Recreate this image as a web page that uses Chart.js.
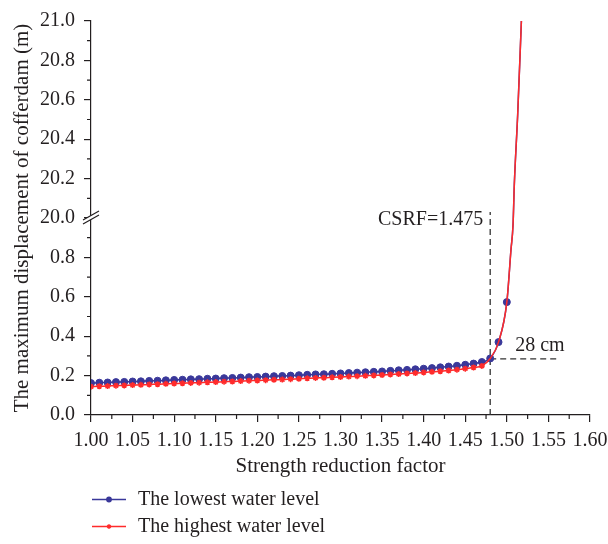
<!DOCTYPE html>
<html>
<head>
<meta charset="utf-8">
<script src="https://cdn.jsdelivr.net/npm/chart.js@4.4.1/dist/chart.umd.min.js"></script>
<style>
  html, body { margin: 0; padding: 0; background: #fff; }
  #wrap { width: 608px; height: 544px; }
</style>
</head>
<body>
<div id="wrap"><canvas id="chart" width="608" height="544"></canvas></div>
<script>
// strength reduction factors of the computed steps
const reductionFactors = [
  1.00, 1.01, 1.02, 1.03, 1.04, 1.05, 1.06, 1.07, 1.08, 1.09,
  1.10, 1.11, 1.12, 1.13, 1.14, 1.15, 1.16, 1.17, 1.18, 1.19,
  1.20, 1.21, 1.22, 1.23, 1.24, 1.25, 1.26, 1.27, 1.28, 1.29,
  1.30, 1.31, 1.32, 1.33, 1.34, 1.35, 1.36, 1.37, 1.38, 1.39,
  1.40, 1.41, 1.42, 1.43, 1.44, 1.45, 1.46, 1.47, 1.48, 1.49, 1.50
];
const lowestWaterLevel = [
  0.162, 0.164, 0.165, 0.167, 0.168, 0.170, 0.171, 0.173, 0.174, 0.176,
  0.178, 0.179, 0.181, 0.182, 0.184, 0.185, 0.187, 0.188, 0.190, 0.192,
  0.193, 0.195, 0.197, 0.198, 0.200, 0.202, 0.204, 0.206, 0.207, 0.209,
  0.211, 0.213, 0.215, 0.217, 0.219, 0.221, 0.224, 0.227, 0.229, 0.232,
  0.235, 0.238, 0.242, 0.246, 0.250, 0.255, 0.261, 0.269, 0.287, 0.370, 0.573
];
const highestWaterLevel = [
  0.144, 0.146, 0.147, 0.149, 0.150, 0.152, 0.153, 0.155, 0.156, 0.158,
  0.160, 0.161, 0.163, 0.164, 0.166, 0.167, 0.169, 0.170, 0.172, 0.174,
  0.175, 0.177, 0.179, 0.180, 0.182, 0.184, 0.186, 0.188, 0.189, 0.191,
  0.193, 0.195, 0.197, 0.199, 0.201, 0.203, 0.206, 0.208, 0.211, 0.213,
  0.216, 0.219, 0.222, 0.226, 0.230, 0.235, 0.241, 0.249, 0.287, 0.370, 0.573
];
// divergence: both runs shoot up through the axis break (no markers)
const tailFactors = [1.505, 1.5075, 1.509, 1.513, 1.5175];
const tailDisplacement = [0.84, 0.97, 20.17, 20.52, 21.0];
const highestMarkedUntil = 1.47;

const xTickValues = [1.00, 1.05, 1.10, 1.15, 1.20, 1.25, 1.30, 1.35, 1.40, 1.45, 1.50, 1.55, 1.60];
const xTickLabels = ['1.00', '1.05', '1.10', '1.15', '1.20', '1.25', '1.30', '1.35', '1.40', '1.45', '1.50', '1.55', '1.60'];
const yTickValues = [0.0, 0.2, 0.4, 0.6, 0.8, 20.0, 20.2, 20.4, 20.6, 20.8, 21.0];
const yTickLabels = ['0.0', '0.2', '0.4', '0.6', '0.8', '20.0', '20.2', '20.4', '20.6', '20.8', '21.0'];

const yBreak = {low: 1.0, high: 20.0};
const criticalFactor = 1.48;
const criticalText = 'CSRF=1.475';
const criticalDisplacement = 0.285;
const criticalDispText = '28 cm';
const criticalLineTop = 20.03;
const criticalLineEnd = 1.56;

const INK = '#231f20';
const BLUE = '#3a389a';
const RED = '#ff2b2b';
const FONT = '"Liberation Serif", "Times New Roman", serif';

// values above the break are shifted down so both parts share one axis
function toAxis(v) {
    return v >= yBreak.high ? v - yBreak.high + yBreak.low : v;
}

const allFactors = reductionFactors.concat(tailFactors);
const toPoints = (values) => values.concat(tailDisplacement)
    .map((v, i) => ({x: allFactors[i], y: toAxis(v)}));

const minorTicks = {
    id: 'minorTicks',
    afterDraw(chart) {
        const {ctx, scales: {x, y}} = chart;
        ctx.save();
        ctx.strokeStyle = INK;
        ctx.lineWidth = 1.2;
        ctx.beginPath();
        for (let i = 0; i < x.ticks.length - 1; i++) {
            const px = x.getPixelForValue((x.ticks[i].value + x.ticks[i + 1].value) / 2);
            ctx.moveTo(px, x.top);
            ctx.lineTo(px, x.top + 4);
        }
        for (let i = 0; i < y.ticks.length - 1; i++) {
            const py = y.getPixelForValue((y.ticks[i].value + y.ticks[i + 1].value) / 2);
            ctx.moveTo(y.right, py);
            ctx.lineTo(y.right - 4, py);
        }
        ctx.stroke();

        // axis break mark
        const x0 = y.right, y0 = y.getPixelForValue(yBreak.low);
        ctx.fillStyle = '#fff';
        ctx.beginPath();
        ctx.moveTo(x0 - 8, y0 + 2);
        ctx.lineTo(x0 + 8, y0 - 7);
        ctx.lineTo(x0 + 8, y0 - 3);
        ctx.lineTo(x0 - 8, y0 + 6);
        ctx.closePath();
        ctx.fill();
        ctx.beginPath();
        ctx.moveTo(x0 - 8, y0 + 2);
        ctx.lineTo(x0 + 8, y0 - 7);
        ctx.moveTo(x0 - 8, y0 + 6);
        ctx.lineTo(x0 + 8, y0 - 3);
        ctx.stroke();
        ctx.restore();
    }
};

const criticalMarks = {
    id: 'criticalMarks',
    beforeDatasetsDraw(chart) {
        const {ctx, scales: {x, y}} = chart;
        const cx = x.getPixelForValue(criticalFactor);
        const cy = y.getPixelForValue(criticalDisplacement);
        ctx.save();
        ctx.strokeStyle = '#333';
        ctx.lineWidth = 1.3;
        ctx.setLineDash([6, 4]);
        ctx.beginPath();
        ctx.moveTo(cx, y.bottom);
        ctx.lineTo(cx, y.getPixelForValue(toAxis(criticalLineTop)));
        ctx.moveTo(cx, cy);
        ctx.lineTo(x.getPixelForValue(criticalLineEnd), cy);
        ctx.stroke();
        ctx.setLineDash([]);
        ctx.fillStyle = INK;
        ctx.font = '20px ' + FONT;
        ctx.textBaseline = 'middle';
        ctx.textAlign = 'right';
        ctx.fillText(criticalText, cx - 7, y.getPixelForValue(0.99));
        ctx.textAlign = 'left';
        ctx.fillText(criticalDispText, x.getPixelForValue(1.51), y.getPixelForValue(0.35));
        ctx.restore();
    }
};

const bottomLegend = {
    id: 'bottomLegend',
    afterDraw(chart) {
        const {ctx} = chart;
        const rows = [499.5, 526.5];
        ctx.save();
        chart.data.datasets.forEach((ds, i) => {
            const ly = rows[i];
            ctx.strokeStyle = ds.borderColor;
            ctx.lineWidth = 1.4;
            ctx.beginPath();
            ctx.moveTo(92, ly);
            ctx.lineTo(126, ly);
            ctx.stroke();
            Chart.helpers.drawPoint(ctx, {
                pointStyle: ds.pointStyle, radius: 2.2, borderWidth: 1.2, rotation: 0
            }, 109, ly);
            ctx.fillStyle = ds.borderColor;
            ctx.fill();
            ctx.fillStyle = INK;
            ctx.font = '20px ' + FONT;
            ctx.textBaseline = 'middle';
            ctx.textAlign = 'left';
            ctx.fillText(ds.label, 138, ly);
        });
        ctx.restore();
    }
};

Chart.defaults.font.family = FONT;
Chart.defaults.font.size = 20;
Chart.defaults.color = INK;

new Chart(document.getElementById('chart').getContext('2d'), {
    type: 'line',
    data: {
        datasets: [
            {
                label: 'The lowest water level',
                data: toPoints(lowestWaterLevel),
                borderColor: BLUE,
                backgroundColor: BLUE,
                borderWidth: 1.5,
                pointStyle: 'circle',
                pointRadius: (c) => c.dataIndex < reductionFactors.length ? 3.5 : 0,
                pointBorderWidth: 1,
                cubicInterpolationMode: 'monotone',
                order: 1
            },
            {
                label: 'The highest water level',
                data: toPoints(highestWaterLevel),
                borderColor: RED,
                backgroundColor: RED,
                borderWidth: 1.5,
                pointStyle: 'star',
                pointRadius: (c) => allFactors[c.dataIndex] <= highestMarkedUntil ? 3 : 0,
                pointBorderWidth: 1.5,
                cubicInterpolationMode: 'monotone',
                order: 0
            }
        ]
    },
    options: {
        responsive: false,
        animation: false,
        events: [],
        layout: {padding: {top: 13, right: 18, bottom: 65, left: 0}},
        plugins: {legend: {display: false}, tooltip: {enabled: false}},
        scales: {
            x: {
                type: 'linear',
                min: xTickValues[0],
                max: xTickValues[xTickValues.length - 1],
                afterBuildTicks: (s) => { s.ticks = xTickValues.map(v => ({value: v})); },
                afterFit: (s) => { s.height = 64; s.paddingLeft = 0; s.paddingRight = 0; },
                ticks: {
                    autoSkip: false,
                    maxRotation: 0,
                    padding: 7,
                    callback: (v, i) => xTickLabels[i]
                },
                grid: {drawOnChartArea: false, drawTicks: true, tickLength: 7, color: INK, lineWidth: 1.2},
                border: {color: INK, width: 1.2},
                title: {display: true, text: 'Strength reduction factor', font: {size: 21}, padding: {top: 0, bottom: 0}}
            },
            y: {
                type: 'linear',
                min: toAxis(yTickValues[0]),
                max: toAxis(yTickValues[yTickValues.length - 1]),
                afterBuildTicks: (s) => { s.ticks = yTickValues.map(v => ({value: toAxis(v)})); },
                afterFit: (s) => { s.width = 91; },
                ticks: {
                    autoSkip: false,
                    padding: 9,
                    callback: (v, i) => yTickLabels[i]
                },
                grid: {drawOnChartArea: false, drawTicks: true, tickLength: 7, color: INK, lineWidth: 1.2},
                border: {color: INK, width: 1.2},
                title: {display: true, text: 'The maximum displacement of cofferdam (m)', font: {size: 21}, padding: {top: 10, bottom: 0}}
            }
        }
    },
    plugins: [criticalMarks, minorTicks, bottomLegend]
});
</script>
</body>
</html>
